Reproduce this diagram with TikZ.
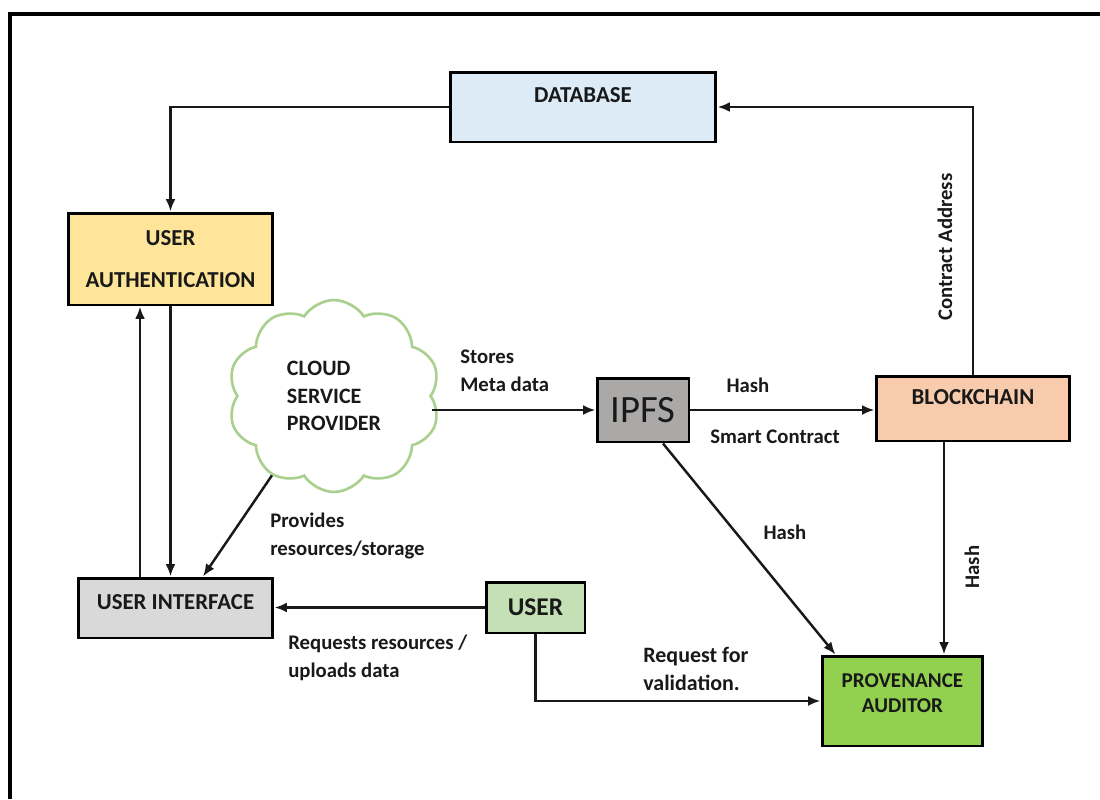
\documentclass[tikz,border=0pt]{standalone}
\usepackage{fontspec}
\setmainfont{Carlito}
\usetikzlibrary{arrows.meta,positioning,shapes.symbols}
\definecolor{dbFill}{RGB}{221,235,247}
\definecolor{authFill}{RGB}{255,229,153}
\definecolor{uiFill}{RGB}{217,217,217}
\definecolor{ipfsFill}{RGB}{171,168,168}
\definecolor{chainFill}{RGB}{248,203,173}
\definecolor{userFill}{RGB}{197,224,180}
\definecolor{auditFill}{RGB}{146,208,80}
\definecolor{cloudStroke}{RGB}{169,208,142}
\colorlet{ink}{black!90}
\tikzset{
  >={Latex[length=2.5mm,width=2mm]},
  arrow/.style={->, draw=ink, line width=1.4pt},
  frame/.style={draw=black, line width=2.3pt},
  box/.style={
    draw=black,
    line width=1.7pt,
    align=center,
    inner sep=2pt,
    text=black!90,
    font=\bfseries\fontsize{13}{14.7}\selectfont
  },
  cloudbox/.style={
    cloud,
    cloud puffs=10,
    cloud puff arc=115,
    aspect=1.1,
    draw=cloudStroke,
    fill=white,
    line width=1.5pt,
    inner sep=0pt,
    align=left,
    text=black!90,
    font=\bfseries\fontsize{12.5}{15.6}\selectfont
  },
  note/.style={inner sep=0pt, align=left, text=black!90, font=\bfseries\fontsize{11.8}{15.9}\selectfont}
}

\begin{document}
\begin{tikzpicture}[x=0.02cm,y=-0.02cm]
  \useasboundingbox (0,0) rectangle (1100,799);
  \draw[frame] (10,799) -- (10,14) -- (1100,14);

  \node[box, fill=dbFill, minimum width=5.32cm, minimum height=1.4cm, text depth=0.48cm] (db) at (583,107) {DATABASE};
  \node[box, fill=authFill, minimum width=4.1cm, minimum height=1.84cm] (auth) at (170.5,259) {USER\\[9pt]AUTHENTICATION};
  \node[box, fill=uiFill, minimum width=3.9cm, minimum height=1.2cm, text depth=0.24cm] (ui) at (175.5,608) {USER INTERFACE};
  \node[cloudbox, minimum width=4.24cm, minimum height=3.84cm] (cloud) at (334,396) {CLOUD\\SERVICE\\PROVIDER};
  \node[box, fill=ipfsFill, minimum width=1.84cm, minimum height=1.28cm, font=\fontsize{22}{24}\selectfont] (ipfs) at (643,410) {IPFS};
  \node[box, fill=chainFill, minimum width=3.88cm, minimum height=1.3cm, text depth=0.46cm] (chain) at (973,408.5) {BLOCKCHAIN};
  \node[box, fill=userFill, minimum width=1.98cm, minimum height=1.02cm, font=\bfseries\fontsize{14.5}{16}\selectfont] (user) at (535.5,607.5) {USER};
  \node[box, fill=auditFill, minimum width=3.22cm, minimum height=1.8cm, text depth=0.32cm, font=\bfseries\fontsize{12}{14.7}\selectfont] (audit) at (902.5,701) {PROVENANCE\\AUDITOR};

  % connectors
  \draw[arrow] (db.west) -| (auth.north);
  \draw[arrow] (chain.north) |- (db.east);
  \draw[arrow] ([xshift=-0.71cm]ui.north) -- ([xshift=-0.71cm]ui.north |- auth.south);
  \draw[arrow] (auth.south) -- (auth.south |- ui.north);
  \draw[arrow] (cloud.232) -- ([xshift=0.55cm]ui.north);
  \draw[arrow] (cloud.east |- ipfs.west) -- (ipfs.west);
  \draw[arrow] (ipfs.east) -- (ipfs.east -| chain.west);
  \draw[arrow] ([xshift=0.4cm]ipfs.south) -- ([xshift=-1.34cm]audit.north);
  \draw[arrow] ([xshift=-0.58cm]chain.south) -- ([xshift=-0.58cm]chain.south |- audit.north);
  \draw[arrow] (user.west) -- (user.west -| ui.east);
  \draw[arrow] (user.south) |- (audit.west);

  % labels
  \node[note, anchor=west] (stores) at (460,371) {Stores\\Meta data};
  \node[note] (hashTop) at (748,385) {Hash};
  \node[note] (smart) at (775,437) {Smart Contract};
  \node[note, rotate=90] (address) at (945,247) {Contract Address};
  \node[note] (hashMid) at (785,532) {Hash};
  \node[note, rotate=90] (hashRight) at (972,567) {Hash};
  \node[note, anchor=west] (provides) at (270,536) {Provides\\resources/storage};
  \node[note, anchor=west] (requests) at (288,658) {Requests resources /\\uploads data};
  \node[note, anchor=west, font=\bfseries\fontsize{12.5}{15.9}\selectfont] (validate) at (643,669) {Request for\\validation.};
\end{tikzpicture}
\end{document}
